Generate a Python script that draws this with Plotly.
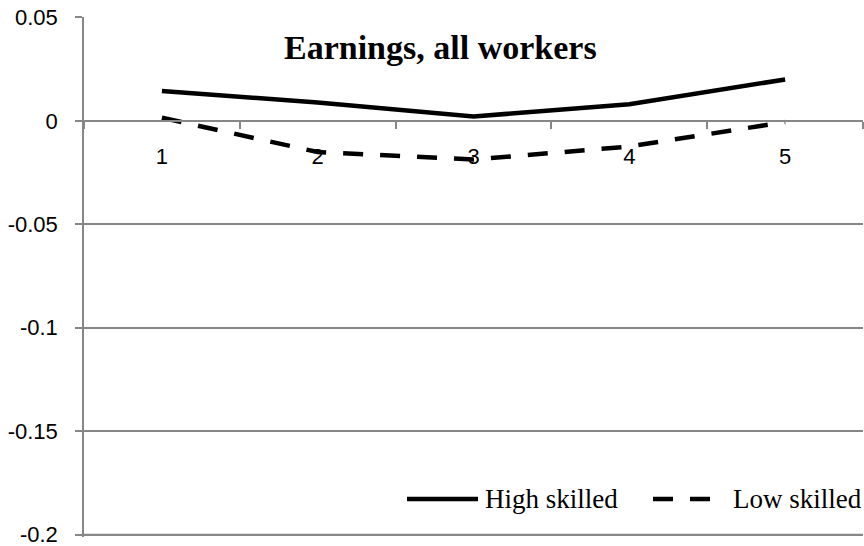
import plotly.graph_objects as go

categories = ["1", "2", "3", "4", "5"]
high_skilled = [0.0144, 0.0089, 0.0021, 0.0080, 0.0200]
low_skilled = [0.0015, -0.0151, -0.0187, -0.0124, -0.0006]
y_tickvals = [0.05, 0.0, -0.05, -0.1, -0.15, -0.2]
y_ticktext = ["0.05", "0", "-0.05", "-0.1", "-0.15", "-0.2"]
series_names = ["High skilled", "Low skilled"]
title_text = "Earnings, all workers"

grid = "#878787"
DASH = "20px,17px"

fig = go.Figure()
fig.add_trace(go.Scatter(x=categories, y=high_skilled, mode="lines", name=series_names[0],
                         line=dict(color="black", width=4.5)))
fig.add_trace(go.Scatter(x=categories, y=low_skilled, mode="lines", name=series_names[1],
                         line=dict(color="black", width=4.5, dash=DASH)))

# plot-area pixel geometry helpers for the hand-drawn legend
L, T, W, H = 84, 17, 779, 520
def px(x):
    return (x - L) / W
def py(y):
    return (T + H - y) / H

leg_y = py(499)
shapes = [
    dict(type="line", xref="paper", yref="paper", x0=px(407), x1=px(478), y0=leg_y, y1=leg_y,
         line=dict(color="black", width=4.5)),
    dict(type="line", xref="paper", yref="paper", x0=px(653), x1=px(712), y0=leg_y, y1=leg_y,
         line=dict(color="black", width=4.5, dash=DASH)),
    # bottom gridline at the lowest tick value
    dict(type="line", xref="paper", yref="y", x0=0, x1=1, y0=y_tickvals[-1], y1=y_tickvals[-1],
         line=dict(color=grid, width=1.5), layer="below"),
]
annotations = [
    dict(text="<b>" + title_text + "</b>", xref="paper", yref="paper",
         x=0.457, y=py(47), xanchor="center", yanchor="middle", showarrow=False,
         font=dict(family="Liberation Serif", size=34, color="black")),
    dict(text=series_names[0], xref="paper", yref="paper", x=px(483), y=leg_y,
         xanchor="left", yanchor="middle", showarrow=False,
         font=dict(family="Liberation Serif", size=27, color="black")),
    dict(text=series_names[1], xref="paper", yref="paper", x=px(731), y=leg_y,
         xanchor="left", yanchor="middle", showarrow=False,
         font=dict(family="Liberation Serif", size=27, color="black")),
]

fig.update_layout(
    width=864, height=546,
    margin=dict(l=84, r=1, t=17, b=9, autoexpand=False),
    plot_bgcolor="white", paper_bgcolor="white",
    font=dict(family="Liberation Sans", size=22, color="black"),
    showlegend=False,
    xaxis=dict(type="category", range=[-0.5, 4.5], anchor="free",
               position=0.2012 / 0.2514, showline=True,
               linecolor=grid, linewidth=1.5, ticks="outside", tickson="boundaries", ticklen=7,
               tickcolor=grid, tickwidth=1.5, showgrid=False, zeroline=False,
               ticklabelstandoff=16, automargin=False,
               tickfont=dict(family="Liberation Sans", size=22)),
    yaxis=dict(range=[-0.2012, 0.0502], tickvals=y_tickvals, ticktext=y_ticktext, showline=True,
               linecolor=grid, linewidth=1.5, ticks="outside", ticklen=7, tickcolor=grid,
               tickwidth=1.5, showgrid=True, gridcolor=grid, gridwidth=1.5, zeroline=False,
               ticklabelstandoff=13, automargin=False, ticklabeloverflow="allow",
               tickfont=dict(family="Liberation Sans", size=22)),
    shapes=shapes,
    annotations=annotations,
)

fig.write_html("out.html", config={"displayModeBar": False},
               post_script="document.body.style.margin='0';")
